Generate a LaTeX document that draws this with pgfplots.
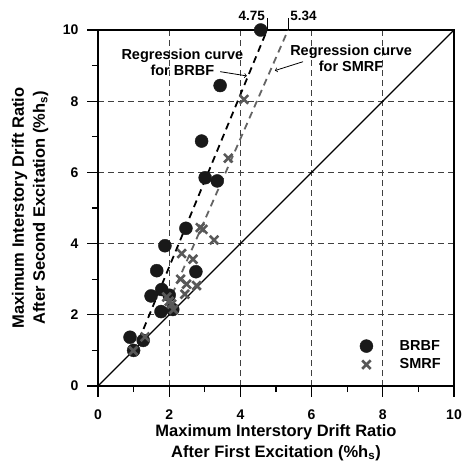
\documentclass[border=0pt]{standalone}
\usepackage{pgfplots}
\pgfplotsset{compat=1.18}
\usepackage{fontspec}
\setmainfont{Liberation Sans}
\definecolor{xgray}{RGB}{88,88,88}
\definecolor{lgray}{RGB}{100,100,100}
\begin{document}
\begin{tikzpicture}[font=\bfseries]
\begin{axis}[
  width=356pt, height=356pt, scale only axis,
  xmin=0, xmax=10, ymin=0, ymax=10,
  xtick={0,2,4,6,8,10}, ytick={0,2,4,6,8,10},
  minor xtick={1,3,5,7,9}, minor ytick={1,3,5,7,9},
  xtick pos=bottom, ytick pos=left,
  tick align=outside, major tick length=11pt, minor tick length=6pt,
  axis line style={line width=1.6pt},
  every tick/.style={line width=1.2pt, black},
  grid=major,
  major grid style={line width=0.8pt, black!75, dash pattern=on 6pt off 4pt},
  /pgf/number format/assume math mode=true,
  ticklabel style={font=\fontsize{14}{16}\selectfont\bfseries},
  xticklabel style={yshift=-9pt},
  yticklabel style={xshift=-5pt},
  xlabel={Maximum Interstory Drift Ratio\\After First Excitation (\%h\textsubscript{s})},
  ylabel={Maximum Interstory Drift Ratio\\After Second Excitation (\%h\textsubscript{s})},
  every axis x label/.style={at={(axis description cs:0.5,-0.158)}, anchor=center,
    align=center, font=\fontsize{16.5}{21}\selectfont\bfseries},
  every axis y label/.style={at={(axis description cs:-0.191,0.5)}, anchor=center, rotate=90,
    align=center, font=\fontsize{16.5}{21}\selectfont\bfseries},
  clip=false,
  legend style={draw=none, fill=none, at={(axis cs:7.22,1.40)}, anchor=north west,
    font=\fontsize{14.5}{16}\selectfont\bfseries, row sep=3pt},
  legend cell align=left,
  legend image code/.code={\path (-8pt,0) (31pt,0); \draw[#1] plot coordinates {(0pt,0pt)};},
]
% y = x line
\addplot[black, line width=1.1pt, forget plot] coordinates {(0,0) (10,10)};
% regression lines
\addplot[black, line width=1.8pt, dash pattern=on 7pt off 5pt, forget plot] coordinates {(1.15,1.29) (4.75,10)};
\addplot[lgray, line width=1.8pt, dash pattern=on 7pt off 5pt, forget plot] coordinates {(1.95,2.27) (5.34,10)};
% BRBF
\addplot[only marks, mark=*, mark size=6.5pt, color=black!90, mark options={fill=black!90, draw=black!90}] coordinates {
(4.57,10.0) (3.43,8.44) (2.91,6.88) (3.01,5.85) (3.35,5.76) (2.47,4.43)
(1.88,3.94) (1.65,3.24) (2.75,3.21) (1.79,2.71) (1.49,2.53) (1.77,2.09)
(2.10,2.15) (2.00,2.55) (0.90,1.37) (1.27,1.28) (1.00,1.00)
};
\addlegendentry{BRBF}
% SMRF
\addplot[only marks, mark=x, mark size=6pt, color=xgray, mark options={line width=2.6pt}] coordinates {
(4.10,8.05) (3.66,6.40) (2.87,4.45) (2.95,4.40) (3.26,4.10) (2.35,3.72)
(2.67,3.56) (2.32,3.00) (2.49,2.86) (2.77,2.82) (2.44,2.58) (1.93,2.50)
(2.00,2.38) (2.07,2.30) (2.12,2.15) (1.32,1.38) (0.99,0.99)
};
\addlegendentry{SMRF}
% annotations
\node[align=center, font=\fontsize{14.5}{16}\selectfont\bfseries] at (axis cs:2.37,9.1) {Regression curve\\for BRBF};
\node[align=center, font=\fontsize{14.5}{16}\selectfont\bfseries] at (axis cs:7.11,9.2) {Regression curve\\for SMRF};
\draw[->, line width=0.8pt] (axis cs:3.43,8.83) -- (axis cs:4.18,8.71);
\draw[->, line width=0.8pt] (axis cs:5.76,9.11) -- (axis cs:4.97,8.86);
\draw[line width=1.2pt] (axis cs:4.75,10) -- ++(0,12pt);
\draw[line width=1.2pt] (axis cs:5.34,10) -- ++(0,12pt);
\node[anchor=base east, inner sep=0pt, xshift=-2pt, yshift=9.5pt, font=\fontsize{13.5}{15}\selectfont\bfseries] at (axis cs:4.75,10) {4.75};
\node[anchor=base west, inner sep=0pt, xshift=2pt, yshift=9.5pt, font=\fontsize{13.5}{15}\selectfont\bfseries] at (axis cs:5.34,10) {5.34};
% fix picture extent to reference proportions
\path (rel axis cs:0,0) ++(-98pt,-80pt);
\path (rel axis cs:1,1) ++(9pt,30pt);
\end{axis}
\end{tikzpicture}
\end{document}
